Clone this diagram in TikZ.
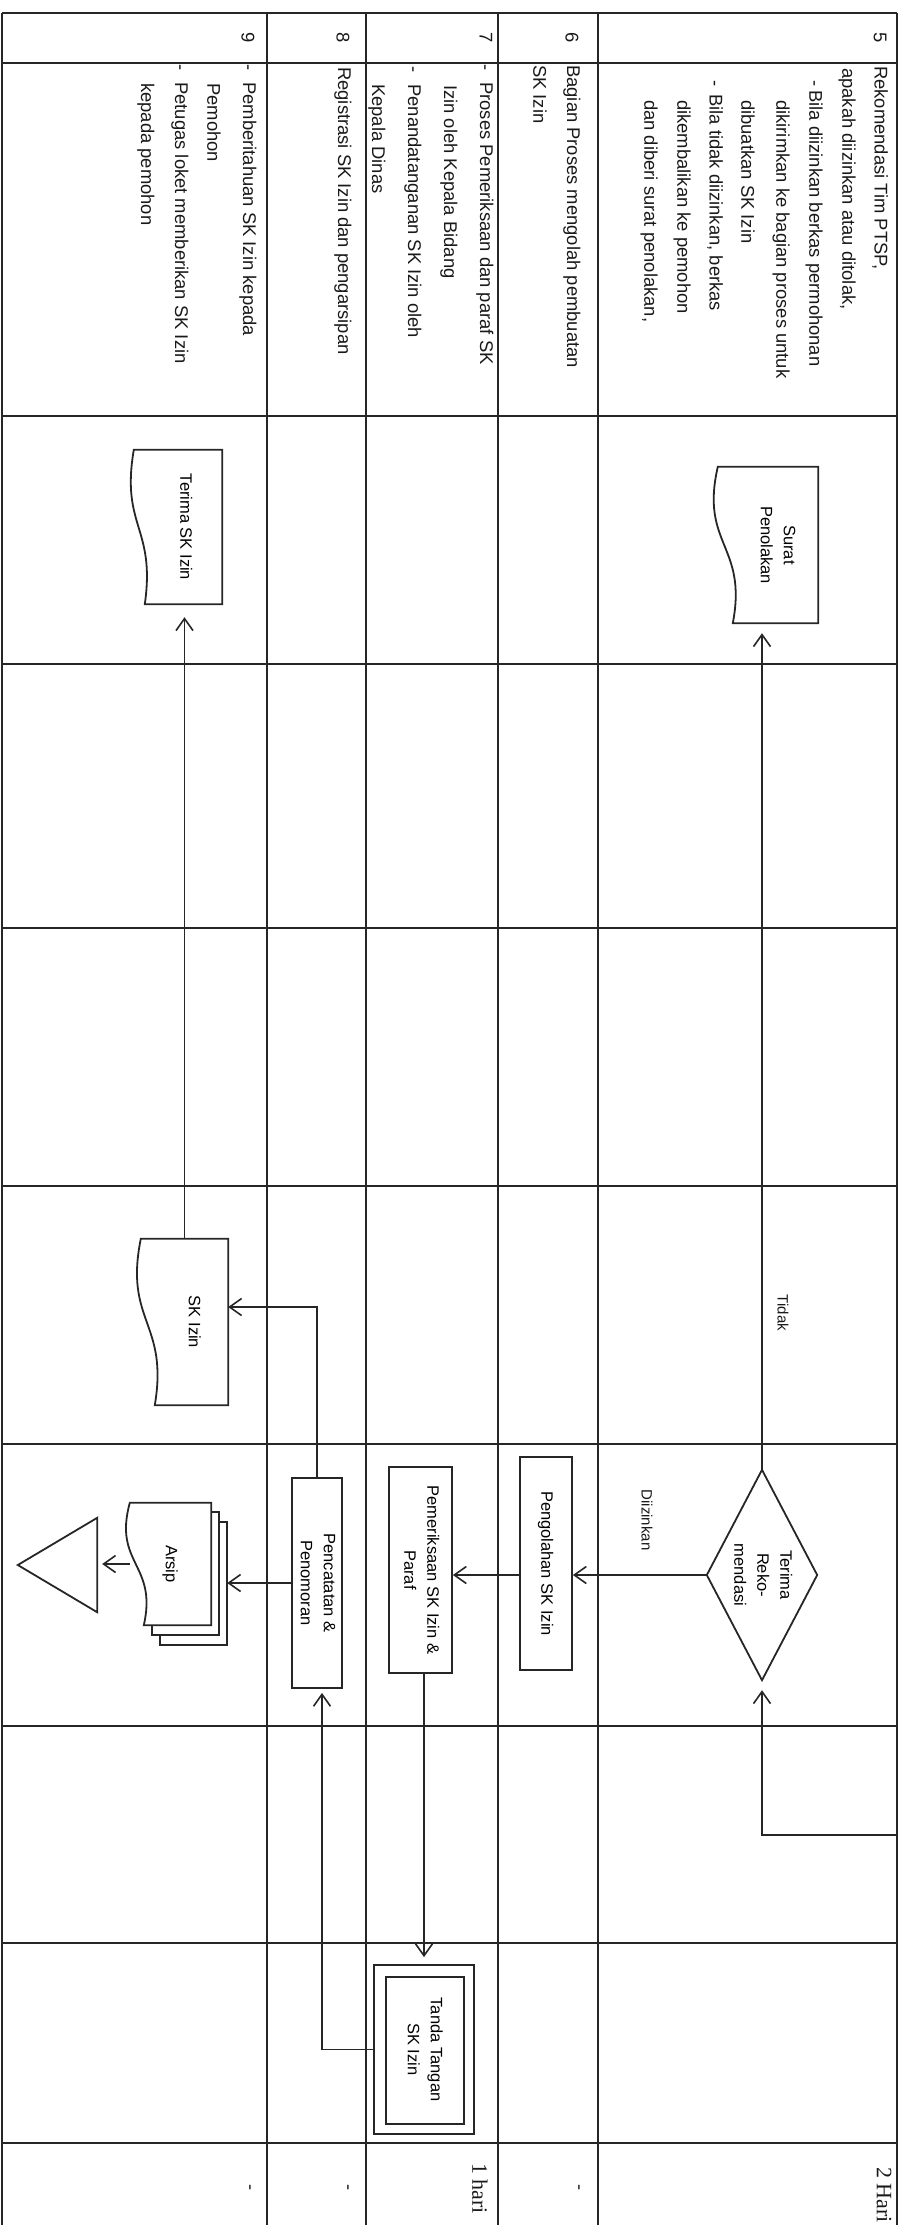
\documentclass[tikz,border=0pt]{standalone}
\usepackage{fontspec}
\setmainfont{Liberation Sans}
\newfontfamily\serifnum{Liberation Serif}
\usetikzlibrary{arrows.meta,calc}

\newcommand{\rt}[1]{\rotatebox{-90}{\begin{tabular}{@{}c@{}}#1\end{tabular}}}
\newcommand{\docdraw}[3][]{%
 \draw[shp,#1] (#2.north east) -- (#2.north west)
  .. controls ($(#2.north west)!0.5!(#2.south west)+(-1.2*#3,0)$) and ($(#2.north west)!0.5!(#2.south west)+(2*#3,0)$) .. ($(#2.south west)+(#3,0)$)
  -- (#2.south east) -- cycle;}

\tikzset{
  grid/.style={line width=2pt, draw=black!85},
  shp/.style={line width=1.8pt, draw=black!85},
  arr/.style={line width=1.6pt, draw=black!85, -{Straight Barb[length=12pt,width=17pt]}},
  hdr/.style={font=\fontsize{18.4}{22}\selectfont, rotate=-90, anchor=west, inner sep=0pt, text=black!90},
  num/.style={font=\fontsize{18.4}{22}\selectfont, rotate=-90, inner sep=0pt, text=black!90},
  dur/.style={font=\serifnum\fontsize{22}{26}\selectfont, rotate=-90, anchor=west, inner sep=0pt, text=black!90},
  box/.style={draw=black!85, line width=1.8pt, fill=white, inner sep=1pt, font=\fontsize{16.5}{23}\selectfont},
  ghost/.style={inner sep=1pt, font=\fontsize{16.5}{23}\selectfont},
  lbl/.style={font=\fontsize{15}{18}\selectfont, rotate=-90, inner sep=0pt, text=black!90},
}

\begin{document}
\begin{tikzpicture}[x=1pt,y=-1pt]
\useasboundingbox (0,0) rectangle (910,2225);

% ---------- table grid ----------
\foreach \x in {2,267,366,498,598,897} \draw[grid] (\x,13) -- (\x,2225);
\foreach \y in {13,63,416,664,928,1186,1444,1726,1943,2143} \draw[grid] (2,\y) -- (897,\y);

% ---------- header: step numbers ----------
\node[num] (n5) at (880,38) {5};
\node[num] (n6) at (572,38) {6};
\node[num] (n7) at (486,38) {7};
\node[num] (n8) at (343,38) {8};
\node[num] (n9) at (248,38) {9};

% ---------- header: descriptions ----------
\node[hdr] (t5a) at (880,66) {Rekomendasi Tim PTSP,};
\node[hdr] (t5b) at (847,68) {apakah diizinkan atau ditolak,};
\node[hdr] (t5c) at (814,80) {-\hspace{4pt}Bila diizinkan berkas permohonan};
\node[hdr] (t5d) at (781,100) {dikirimkan ke bagian proses untuk};
\node[hdr] (t5e) at (748,100) {dibuatkan SK Izin};
\node[hdr] (t5f) at (715,80) {-\hspace{8pt}Bila tidak diizinkan, berkas};
\node[hdr] (t5g) at (682,100) {dikembalikan ke pemohon};
\node[hdr] (t5h) at (649,100) {dan diberi surat penolakan,};

\node[hdr] (t6a) at (572,65) {Bagian Proses mengolah pembuatan};
\node[hdr] (t6b) at (540,65) {SK Izin};

\node[hdr] (t7a) at (485,64) {-\hspace{12pt}Proses Pemeriksaan dan paraf SK};
\node[hdr] (t7b) at (449,85) {Izin oleh Kepala Bidang};
\node[hdr] (t7c) at (413,66) {-\hspace{12pt}Penandatanganan SK Izin oleh};
\node[hdr] (t7d) at (377,84) {Kepala Dinas};

\node[hdr] (t8a) at (343,67) {Registrasi SK Izin dan pengarsipan};

\node[hdr] (t9a) at (248,64) {-\hspace{12pt}Pemberitahuan SK Izin kepada};
\node[hdr] (t9b) at (214,83) {Pemohon};
\node[hdr] (t9c) at (180,64) {-\hspace{12pt}Petugas loket memberikan SK Izin};
\node[hdr] (t9d) at (146,83) {kepada pemohon};

% ---------- flow shapes ----------
% documents
\node[ghost, minimum width=88pt, minimum height=154pt] (terma) at (178,527) {\hspace{14pt}\rt{Terima SK Izin}};
\docdraw{terma}{11}
\node[ghost, minimum width=100pt, minimum height=156pt] (surat) at (768,545) {\hspace{18pt}\rt{Surat\\Penolakan}};
\docdraw{surat}{15}
\node[ghost, minimum width=87pt, minimum height=166pt] (sk) at (184.5,1322) {\hspace{18pt}\rt{SK Izin}};
\docdraw{sk}{14}

% decision
\node[ghost, minimum width=110pt, minimum height=210pt] (dia) at (762,1575) {\rt{Terima\\Reko-\\mendasi}};
\draw[shp] (dia.north) -- (dia.east) -- (dia.south) -- (dia.west) -- cycle;

% processes
\node[box, minimum width=52pt, minimum height=213pt] (peng) at (546,1563.5) {\rt{Pengolahan SK Izin}};
\node[box, minimum width=63pt, minimum height=206pt] (pem) at (420.5,1570) {\rt{Pemeriksaan SK Izin \&\\Paraf}};
\node[box, minimum width=50pt, minimum height=210pt] (penc) at (317,1583) {\rt{Pencatatan \&\\Penomoran}};
\node[box, minimum width=100pt, minimum height=169pt] (tt) at (424,2049.5) {\rt{Tanda Tangan\\SK Izin}};
\draw[shp] ($(tt.north west)+(13,13)$) rectangle ($(tt.south east)+(-11,-11)$);

% archive stack
\node[ghost, minimum width=67pt, minimum height=123pt] (arsip3) at (193.5,1583.5) {};
\node[ghost, minimum width=67pt, minimum height=123pt] (arsip2) at (185.5,1573.5) {};
\node[ghost, minimum width=81pt, minimum height=122pt] (arsip) at (170.5,1564) {};
\draw[shp, fill=white] (arsip3.north west) rectangle (arsip3.south east);
\draw[shp, fill=white] (arsip2.north west) rectangle (arsip2.south east);
\docdraw[fill=white]{arsip}{14}
\node[ghost] (arsiptxt) at (arsip.center) {\rt{Arsip}};

% storage triangle
\node[ghost, minimum width=79pt, minimum height=94pt] (tri) at (57.5,1565) {};
\draw[shp] (tri.north east) -- (tri.south east) -- (tri.west) -- cycle;

% ---------- connectors ----------
\coordinate (inc) at (897,1835);
\draw[arr, shorten >=10pt] (inc) -| (dia.south);
\draw[arr, shorten >=10pt] (dia.north) -- (dia.north |- surat.south);
\draw[arr] (dia.west) -- (dia.west -| peng.east);
\draw[arr] (peng.west |- dia.west) -- (dia.west -| pem.east);
\draw[arr, shorten >=7pt] (pem.south -| tt.north) -- (tt.north);
\draw[arr, shorten >=4pt] (tt.west) -| ([xshift=5pt]penc.south);
\draw[arr] (penc.north) |- ([yshift=15pt]sk.east);
\draw[arr] (penc.west) -- (penc.west -| arsip3.east);
\draw[arr, shorten >=5pt] (arsip.west) -- (arsip.west -| tri.east);
\draw[arr, shorten >=13pt] (sk.north) -- (sk.north |- terma.south);

\node[lbl] (tidak) at (783,1313) {Tidak};
\node[lbl] (izin) at (647,1520) {Diizinkan};

% ---------- durations ----------
\node[dur] (d5) at (884,2167) {2 Hari};
\node[dur] (d7) at (480,2163) {1 hari};
\node[num] (d6) at (577,2188) {-};
\node[num] (d8) at (346,2188) {-};
\node[num] (d9) at (248,2188) {-};
\end{tikzpicture}
\end{document}
